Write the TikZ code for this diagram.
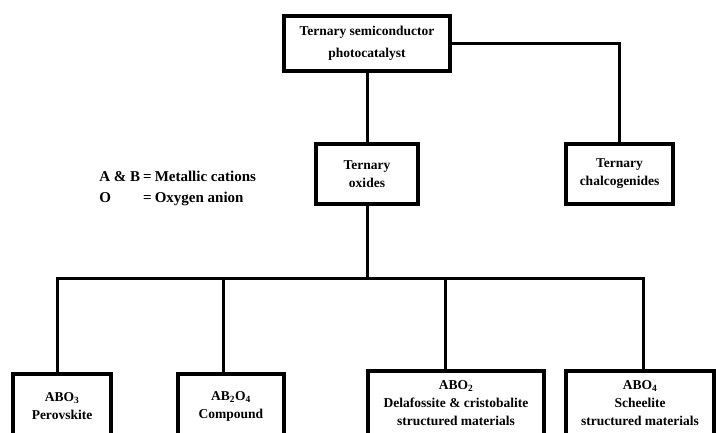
\documentclass[tikz,border=0pt]{standalone}
\usepackage{fontspec}
\setmainfont{Liberation Serif}
\tikzset{every picture/.style={line width=0.75pt}}
\tikzset{
  box/.style={draw, line width=3.2pt, align=center, inner sep=0pt,
    font=\fontsize{13.5}{18}\selectfont\bfseries},
  link/.style={line width=3pt}
}

\begin{document}
\begin{tikzpicture}[x=1pt,y=1pt,yscale=-1,xscale=1]
\useasboundingbox (0,0) rectangle (716,432);
\clip (0,0) rectangle (716,432);

% Shape: Rectangle
\node [box, minimum width=166, minimum height=55] (top) at (367,43.5) {Ternary semiconductor\\[4pt]photocatalyst};
% Shape: Rectangle
\node [box, minimum width=102, minimum height=60] (oxides) at (367,174) {Ternary\\oxides};
% Shape: Rectangle
\node [box, minimum width=107, minimum height=60] (chalco) at (619.5,174) {Ternary\\chalcogenides};

% Text Node
\node [anchor=west, inner sep=0pt, font=\fontsize{15}{21}\selectfont\bfseries] (legend) at (99,188)
  {\begin{tabular}{@{}l@{\hspace{3pt}}c@{\hspace{3pt}}l@{}}
   A \& B & = & Metallic cations\\
   O & = & Oxygen anion
   \end{tabular}};

% Shape: Rectangle
\node [box, minimum width=98, minimum height=64] (abo3) at (62,406) {ABO\textsubscript{3}\\Perovskite};
% Shape: Rectangle
\node [box, minimum width=106, minimum height=64] (ab2o4) at (231,406) {AB\textsubscript{2}O\textsubscript{4}\\Compound};
% Shape: Rectangle
\node [box, minimum width=176, minimum height=64] (abo2) at (456,403) {ABO\textsubscript{2}\\Delafossite \& cristobalite\\structured materials};
% Shape: Rectangle
\node [box, minimum width=148, minimum height=64] (abo4) at (640,403) {ABO\textsubscript{4}\\Scheelite\\structured materials};

%Straight Lines
\draw [link] (top.south) -- (oxides.north);
\draw [link] (top.east) -| (chalco.north);

%Straight Lines
\coordinate (bus) at (367,278);
\coordinate (d1) at (57,278);
\coordinate (d2) at (223,278);
\coordinate (d3) at (445,278);
\coordinate (d4) at (643,278);
\draw [link] (oxides.south) -- (bus);
\draw [link] (d1 |- abo3.north) -- (d1) -- (d4) -- (d4 |- abo4.north);
\draw [link] (d2) -- (d2 |- ab2o4.north);
\draw [link] (d3) -- (d3 |- abo2.north);

\end{tikzpicture}
\end{document}
